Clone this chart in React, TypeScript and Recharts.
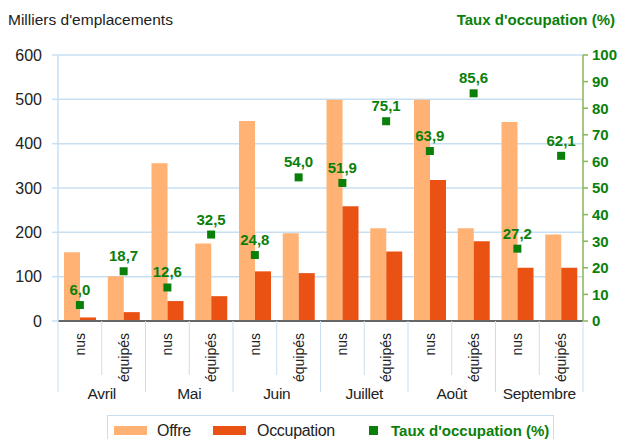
import React from 'react';
import { ComposedChart, Bar, Scatter, XAxis, YAxis, CartesianGrid, Legend, Label } from 'recharts';

const months = ['Avril', 'Mai', 'Juin', 'Juillet', 'Août', 'Septembre'];
const subTypes = ['nus', 'équipés'];
const offre = [155, 101, 356, 175, 451, 198, 499, 209, 499, 209, 449, 195];
const occupation = [8, 20, 45, 56, 112, 108, 259, 157, 318, 180, 120, 120];
const taux = [6.0, 18.7, 12.6, 32.5, 24.8, 54.0, 51.9, 75.1, 63.9, 85.6, 27.2, 62.1];
const leftTicks = [0, 100, 200, 300, 400, 500, 600];
const rightTicks = [0, 10, 20, 30, 40, 50, 60, 70, 80, 90, 100];

const data = offre.map((o, i) => ({
  key: `${months[Math.floor(i / 2)]}-${subTypes[i % 2]}`,
  offre: o,
  occupation: occupation[i],
  taux: taux[i],
}));

const W = 618;
const H = 439;
const LEFT_W = 58;
const RIGHT_W = 35;
const BAND = (W - LEFT_W - RIGHT_W) / data.length;

const C_OFFRE = '#FFB273';
const C_OCC = '#EA5213';
const C_GREEN = '#0A800A';
const C_GRID = '#C8DFF2';
const C_RAXIS = '#86B65A';
const FONT = '"Liberation Sans", Arial, sans-serif';

const fmt = (v: number) => v.toFixed(1).replace('.', ',');

const XTick = (props: any) => {
  const { x, y } = props;
  const index: number = props.index ?? props.payload?.index ?? 0;
  const half = BAND / 2;
  const first = index % 2 === 0;
  return (
    <g>
      <line x1={x - half} x2={x - half} y1={y} y2={y + (first ? 71 : 54)} stroke={C_GRID} strokeWidth={1} />
      {index === data.length - 1 && (
        <line x1={x + half} x2={x + half} y1={y} y2={y + 71} stroke={C_GRID} strokeWidth={1} />
      )}
      <text
        x={x}
        y={y + 12}
        transform={`rotate(-90, ${x}, ${y + 12})`}
        textAnchor="end"
        dominantBaseline="central"
        fontSize={14}
        fill="#222"
        fontFamily={FONT}
      >
        {subTypes[index % 2]}
      </text>
      {!first && (
        <text x={x - half} y={y + 78} textAnchor="middle" fontSize={15.5} fill="#222" fontFamily={FONT} letterSpacing={-0.3}>
          {months[Math.floor(index / 2)]}
        </text>
      )}
    </g>
  );
};

const TauxShape = (props: any) => {
  const { cx, cy, payload } = props;
  if (cx == null || cy == null) return null;
  return (
    <g>
      <rect x={cx - 4} y={cy - 4} width={8} height={8} fill={C_GREEN} />
      <text x={cx} y={cy - 10} textAnchor="middle" fontSize={15} fontWeight="bold" fill={C_GREEN} fontFamily={FONT}>
        {fmt(payload.taux)}
      </text>
    </g>
  );
};

const LegendContent = () => (
  <div
    style={{
      position: 'relative',
      width: 447,
      height: 32,
      border: `1px solid ${C_GRID}`,
      boxSizing: 'border-box',
      fontFamily: FONT,
      fontSize: 16,
      color: '#222',
      background: '#fff',
    }}
  >
    <div style={{ position: 'absolute', left: 6, top: 10, width: 33, height: 9, background: C_OFFRE }} />
    <div style={{ position: 'absolute', left: 49, top: 6, lineHeight: '18px', letterSpacing: -0.3 }}>Offre</div>
    <div style={{ position: 'absolute', left: 105, top: 10, width: 33, height: 9, background: C_OCC }} />
    <div style={{ position: 'absolute', left: 149, top: 6, lineHeight: '18px', letterSpacing: -0.3 }}>Occupation</div>
    <div style={{ position: 'absolute', left: 261, top: 10, width: 9, height: 9, background: C_GREEN }} />
    <div style={{ position: 'absolute', left: 283, top: 6, lineHeight: '18px', fontWeight: 'bold', color: C_GREEN, fontSize: 15 }}>
      Taux d'occupation (%)
    </div>
  </div>
);

export default function App() {
  return (
    <div style={{ position: 'absolute', left: 0, top: 0, width: W, height: H, fontFamily: FONT, background: '#fff' }}>
      <ComposedChart
        width={W}
        height={H}
        data={data}
        margin={{ top: 55, right: 0, bottom: 0, left: 0 }}
        barGap={0}
        barSize={16}
      >
        <CartesianGrid yAxisId="left" vertical={false} stroke={C_GRID} strokeWidth={1.5} />
        <XAxis
          dataKey="key"
          height={94}
          interval={0}
          tickSize={0}
          tickMargin={0}
          tick={<XTick />}
          axisLine={{ stroke: '#666', strokeWidth: 2 }}
          tickLine={false}
        />
        <YAxis
          yAxisId="left"
          orientation="left"
          width={LEFT_W}
          domain={[0, 600]}
          ticks={leftTicks}
          interval={0}
          tickSize={6}
          tickMargin={10}
          axisLine={{ stroke: C_GRID, strokeWidth: 1.5 }}
          tickLine={{ stroke: C_GRID, strokeWidth: 1.5 }}
          tick={{ fill: '#222', fontSize: 16, fontFamily: FONT }}
        >
          <Label
            content={() => (
              <text x={8} y={25} fontSize={15.5} fill="#222" fontFamily={FONT}>
                Milliers d'emplacements
              </text>
            )}
          />
        </YAxis>
        <YAxis
          yAxisId="right"
          orientation="right"
          width={RIGHT_W}
          domain={[0, 100]}
          ticks={rightTicks}
          interval={0}
          tickSize={5}
          tickMargin={4}
          axisLine={{ stroke: C_RAXIS, strokeWidth: 1.5 }}
          tickLine={{ stroke: C_RAXIS, strokeWidth: 1.5 }}
          tick={{ fill: C_GREEN, fontSize: 15, fontWeight: 'bold', fontFamily: FONT }}
        >
          <Label
            content={() => (
              <text x={615} y={25} textAnchor="end" fontSize={15} fontWeight="bold" fill={C_GREEN} fontFamily={FONT}>
                Taux d'occupation (%)
              </text>
            )}
          />
        </YAxis>
        <Bar yAxisId="left" dataKey="offre" name="Offre" fill={C_OFFRE} isAnimationActive={false} />
        <Bar yAxisId="left" dataKey="occupation" name="Occupation" fill={C_OCC} isAnimationActive={false} />
        <Scatter
          yAxisId="right"
          dataKey="taux"
          name="Taux d'occupation (%)"
          fill={C_GREEN}
          shape={<TauxShape />}
          isAnimationActive={false}
        />
        <Legend
          verticalAlign="bottom"
          content={<LegendContent />}
          wrapperStyle={{ left: 107, top: 415, width: 447, height: 24, bottom: 'auto' }}
        />
      </ComposedChart>
    </div>
  );
}
